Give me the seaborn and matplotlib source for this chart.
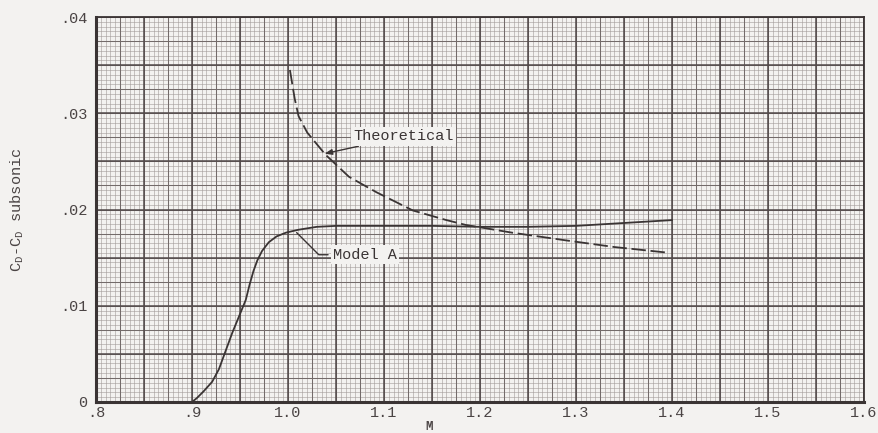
import numpy as np
import pandas as pd
import matplotlib
matplotlib.use("Agg")
import matplotlib.pyplot as plt
import seaborn as sns

# Mach number and drag-rise values for each curve
model_a_mach = [0.900, 0.905, 0.912, 0.921, 0.928, 0.935, 0.942, 0.949, 0.956, 0.960,
                0.964, 0.968, 0.973, 0.980, 0.988, 0.998, 1.011, 1.030, 1.050, 1.100,
                1.150, 1.200, 1.250, 1.300, 1.350, 1.400]
model_a_cd = [0.0000, 0.0004, 0.0011, 0.0021, 0.0034, 0.0053, 0.0072, 0.0089, 0.0106, 0.0122,
              0.0136, 0.0147, 0.0157, 0.0166, 0.0172, 0.0176, 0.0179, 0.0182, 0.0183, 0.0183,
              0.0183, 0.0182, 0.0182, 0.0183, 0.0186, 0.0189]

theory_mach = [1.002, 1.007, 1.011, 1.020, 1.039, 1.0635, 1.092, 1.130, 1.165, 1.185,
               1.233, 1.289, 1.340, 1.397]
theory_cd = [0.0345, 0.0315, 0.0297, 0.0280, 0.0257, 0.0234, 0.0218, 0.0199, 0.0189, 0.0184,
             0.0176, 0.0168, 0.0161, 0.0155]

x_ticks = [0.8, 0.9, 1.0, 1.1, 1.2, 1.3, 1.4, 1.5, 1.6]
x_tick_labels = [".8", ".9", "1.0", "1.1", "1.2", "1.3", "1.4", "1.5", "1.6"]
y_ticks = [0.0, 0.01, 0.02, 0.03, 0.04]
y_tick_labels = ["0", ".01", ".02", ".03", ".04"]

df = pd.concat([
    pd.DataFrame({"M": model_a_mach, "dCD": model_a_cd, "curve": "Model A"}),
    pd.DataFrame({"M": theory_mach, "dCD": theory_cd, "curve": "Theoretical"}),
])

sns.set_theme(style="white")
mono = "Liberation Mono"
plt.rcParams["font.family"] = [mono, "DejaVu Sans Mono"]
plt.rcParams["mathtext.fontset"] = "custom"
plt.rcParams["mathtext.rm"] = mono
plt.rcParams["mathtext.it"] = mono

paper = "#f3f2f0"
ink = "#3a3434"
label_ink = "#4a4444"

fig = plt.figure(figsize=(8.79, 4.33), dpi=100, facecolor=paper)
ax = fig.add_axes([0.1092, 0.0716, 0.8738, 0.8891])
ax.set_facecolor(paper)

x0, x1, y0, y1 = 0.8, 1.6, 0.0, 0.04
ax.set_xlim(x0, x1)
ax.set_ylim(y0, y1)

# graph-paper ruling: fine, medium and bold lines
ax.vlines(np.arange(x0, x1 + 1e-9, 0.005), y0, y1, color="#a29b99", lw=0.4, zorder=0)
ax.hlines(np.arange(y0, y1 + 1e-12, 0.0005), x0, x1, color="#a29b99", lw=0.4, zorder=0)
ax.vlines(np.arange(x0, x1 + 1e-9, 0.025), y0, y1, color="#736b6a", lw=0.75, zorder=0)
ax.hlines(np.arange(y0, y1 + 1e-12, 0.0025), x0, x1, color="#736b6a", lw=0.75, zorder=0)
ax.vlines(np.arange(x0, x1 + 1e-9, 0.05), y0, y1, color="#524a4a", lw=1.1, zorder=0)
ax.hlines(np.arange(y0, y1 + 1e-12, 0.005), x0, x1, color="#524a4a", lw=1.1, zorder=0)

sns.lineplot(data=df, x="M", y="dCD", hue="curve", style="curve",
             palette={"Model A": ink, "Theoretical": ink},
             dashes={"Model A": "", "Theoretical": (8, 2.6)},
             linewidth=1.3, legend=False, sort=False, ax=ax, zorder=3)

for side in ["left", "bottom"]:
    ax.spines[side].set_linewidth(2.2)
for side in ["top", "right"]:
    ax.spines[side].set_linewidth(1.3)
for sp in ax.spines.values():
    sp.set_color(ink)

ax.set_xticks(x_ticks)
ax.set_xticklabels(x_tick_labels)
ax.set_yticks(y_ticks)
ax.set_yticklabels(y_tick_labels)
ax.tick_params(axis="x", length=0, labelsize=11, colors=label_ink, pad=3)
ax.tick_params(axis="y", length=0, labelsize=11, colors=label_ink, pad=6)

ax.set_xlabel("")
ax.set_ylabel(r"C$_\mathrm{D}$-C$_\mathrm{D}$ subsonic", fontsize=11, color=label_ink, labelpad=25)
ax.text(1.1475, -0.0026, "M", fontsize=9, color=label_ink, ha="center", va="center",
        fontweight="bold", clip_on=False)

# curve labels with leaders
box = dict(boxstyle="square,pad=0.15", fc=paper, ec="none")
ax.annotate("Theoretical", xy=(1.038, 0.0258), xytext=(1.068, 0.0276),
            fontsize=11, color=ink, va="center", ha="left", bbox=box,
            arrowprops=dict(arrowstyle="-|>,head_length=0.4,head_width=0.15",
                            color=ink, lw=1.0, shrinkA=2, shrinkB=0), zorder=4)
ax.annotate("Model A", xy=(1.009, 0.0176), xytext=(1.047, 0.0153),
            fontsize=11, color=ink, va="center", ha="left", bbox=box,
            arrowprops=dict(arrowstyle="-", connectionstyle="angle,angleA=0,angleB=135,rad=0",
                            color=ink, lw=1.0, shrinkA=2, shrinkB=0), zorder=4)

fig.savefig("out.png", dpi=100, facecolor=paper)
